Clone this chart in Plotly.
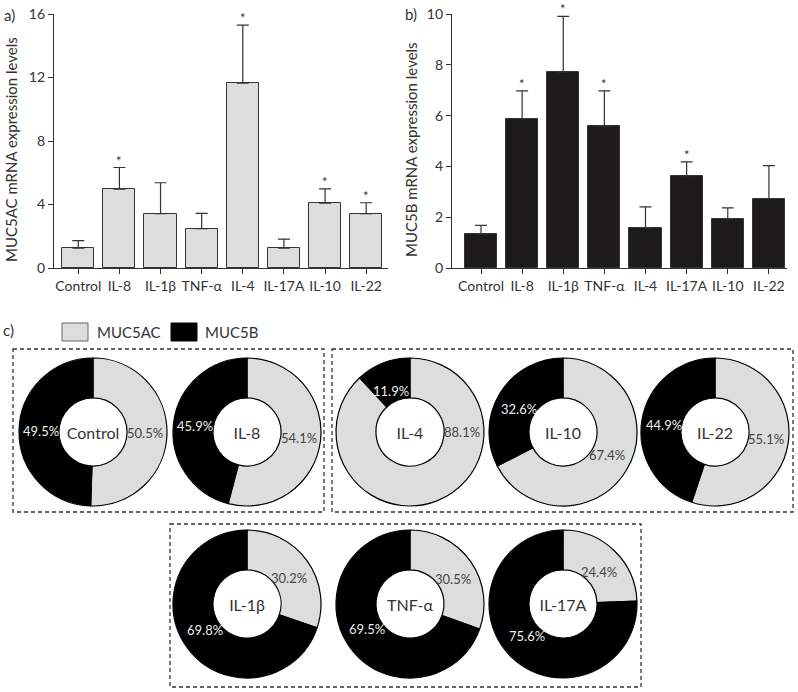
import math

import plotly.graph_objects as go

W, H = 798, 692
FONT = "Lato"
INK = "#333333"

# panels a/b: mean expression and upper error (SEM) per stimulus
cytokines = ["Control", "IL-8", "IL-1β", "TNF-α", "IL-4", "IL-17A", "IL-10", "IL-22"]
muc5ac_mean = [1.25, 4.97, 3.42, 2.48, 11.64, 1.25, 4.09, 3.42]
muc5ac_err = [0.47, 1.36, 1.95, 0.96, 3.66, 0.57, 0.90, 0.69]
muc5ac_sig = [False, True, False, False, True, False, True, True]
muc5b_mean = [1.34, 5.88, 7.72, 5.58, 1.57, 3.64, 1.93, 2.73]
muc5b_err = [0.34, 1.09, 2.19, 1.39, 0.84, 0.54, 0.44, 1.30]
muc5b_sig = [False, True, True, True, False, True, False, False]

# panel c: share of MUC5AC / MUC5B (%)
donut_names = ["Control", "IL-8", "IL-4", "IL-10", "IL-22", "IL-1β", "TNF-α", "IL-17A"]
donut_muc5ac = [50.5, 54.1, 88.1, 67.4, 55.1, 30.2, 30.5, 24.4]
donut_muc5b = [49.5, 45.9, 11.9, 32.6, 44.9, 69.8, 69.5, 75.6]

AC_COLOR = "#dcdddd"
B_COLOR = "#000000"

# donut centres in pixels (layout only)
donut_pos = {
    "Control": (93, 432), "IL-8": (247, 432),
    "IL-4": (410, 432), "IL-10": (563, 432), "IL-22": (715, 432),
    "IL-1β": (247, 604), "TNF-α": (410, 604), "IL-17A": (563, 604),
}
R = 74
LABEL_R = 52
# the original moved the big IL-4 label to 3 o'clock
label_angle_override = {("IL-4", 0): 90.0}


def px_x(v):
    return v / W


def px_y(v):
    return 1 - v / H


fig = go.Figure()

for mean, err, color, xa, ya in [
    (muc5ac_mean, muc5ac_err, AC_COLOR, "x", "y"),
    (muc5b_mean, muc5b_err, "#1c1a1b", "x2", "y2"),
]:
    fig.add_trace(go.Bar(
        x=cytokines, y=mean, width=0.78,
        marker=dict(color=color, line=dict(color=INK, width=1)),
        error_y=dict(type="data", array=err, arrayminus=[0] * len(err), symmetric=False,
                     color=INK, thickness=1.2, width=6),
        xaxis=xa, yaxis=ya, showlegend=False, hoverinfo="x+y",
    ))

annotations = []
for mean, err, sig, xr, yr in [
    (muc5ac_mean, muc5ac_err, muc5ac_sig, "x", "y"),
    (muc5b_mean, muc5b_err, muc5b_sig, "x2", "y2"),
]:
    for cat, m, e, s in zip(cytokines, mean, err, sig):
        if s:
            annotations.append(dict(x=cat, y=m + e, xref=xr, yref=yr, text="*", showarrow=False,
                                    xanchor="center", yanchor="middle", yshift=7,
                                    font=dict(family=FONT, size=13, color=INK)))

for name, ac, b in zip(donut_names, donut_muc5ac, donut_muc5b):
    cx, cy = donut_pos[name]
    fig.add_trace(go.Pie(
        labels=["MUC5AC", "MUC5B"], values=[ac, b], sort=False,
        direction="clockwise", rotation=0, hole=0.46, textinfo="none",
        domain=dict(x=[px_x(cx - R), px_x(cx + R)], y=[px_y(cy + R), px_y(cy - R)]),
        marker=dict(colors=[AC_COLOR, B_COLOR], line=dict(color="#000000", width=1.2)),
        title=dict(text=name, position="middle center", font=dict(family=FONT, size=16, color=INK)),
        showlegend=False, hoverinfo="label+value",
    ))
    # percentage labels at the middle of each slice
    start = 0.0
    for i, (v, col) in enumerate([(ac, "#444444"), (b, "#eeeeee")]):
        ang = label_angle_override.get((name, i), (start + v / 2) / 100 * 360)
        start += v
        tx = cx + LABEL_R * math.sin(math.radians(ang))
        ty = cy - LABEL_R * math.cos(math.radians(ang)) * 0.85
        annotations.append(dict(x=px_x(tx), y=px_y(ty), xref="paper", yref="paper",
                                text=f"{v:.1f}%", showarrow=False,
                                xanchor="center", yanchor="middle",
                                font=dict(family=FONT, size=13, color=col)))

axis_common = dict(showline=True, linecolor=INK, linewidth=1.2, ticks="outside", ticklen=5,
                   tickcolor=INK, tickwidth=1.2, showgrid=False, zeroline=False, tickangle=0,
                   automargin=False, tickfont=dict(family=FONT, size=14, color=INK))

fig.update_layout(
    width=W, height=H, margin=dict(l=0, r=0, t=0, b=0, pad=0),
    paper_bgcolor="white", plot_bgcolor="white",
    font=dict(family=FONT, color=INK),
    xaxis=dict(domain=[px_x(54), px_x(388)], range=[-0.59, 7.53], anchor="y", **axis_common),
    yaxis=dict(domain=[px_y(268), px_y(14)], range=[0, 16], dtick=4, anchor="x", **axis_common),
    xaxis2=dict(domain=[px_x(452), px_x(787)], range=[-0.705, 7.44], anchor="y2", **axis_common),
    yaxis2=dict(domain=[px_y(268), px_y(14)], range=[0, 10], dtick=2, anchor="x2", **axis_common),
    bargap=0,
)

# axis titles, panel labels, legend text
texts = [
    dict(x=px_x(11), y=px_y(150), text="MUC5AC mRNA expression levels", textangle=-90),
    dict(x=px_x(411), y=px_y(150), text="MUC5B mRNA expression levels", textangle=-90),
    dict(x=px_x(9), y=px_y(15), text="a)"),
    dict(x=px_x(411), y=px_y(14), text="b)"),
    dict(x=px_x(8), y=px_y(330), text="c)"),
    dict(x=px_x(95), y=px_y(332), text="MUC5AC", xanchor="left"),
    dict(x=px_x(203), y=px_y(332), text="MUC5B", xanchor="left"),
]
for a in texts:
    a.update(xref="paper", yref="paper", showarrow=False, yanchor="middle")
    a.setdefault("xanchor", "center")
    a["font"] = dict(family=FONT, size=15, color=INK)
annotations += texts

shapes = [
    # legend swatches
    dict(type="rect", x0=62, x1=88, y0=323, y1=341, fillcolor=AC_COLOR, line=dict(color="#666666", width=1)),
    dict(type="rect", x0=171, x1=197, y0=323, y1=341, fillcolor=B_COLOR, line=dict(color="#000000", width=1)),
]
# dashed group boxes
for x0, x1, y0, y1 in [(13, 324, 349, 512), (332, 793, 349, 512), (170, 641, 524, 687)]:
    shapes.append(dict(type="rect", x0=x0, x1=x1, y0=y0, y1=y1,
                       line=dict(color=INK, width=1.3, dash="4px,3px")))
for s in shapes:
    s.update(xref="paper", yref="paper", x0=px_x(s["x0"]), x1=px_x(s["x1"]),
             y0=px_y(s["y0"]), y1=px_y(s["y1"]), layer="below")

fig.update_layout(annotations=annotations, shapes=shapes)

# drop the browser's default body margin so the figure sits at the page origin
fig.write_html("out.html", config={"displayModeBar": False},
               post_script="document.body.style.margin='0';document.body.style.overflow='hidden';")
